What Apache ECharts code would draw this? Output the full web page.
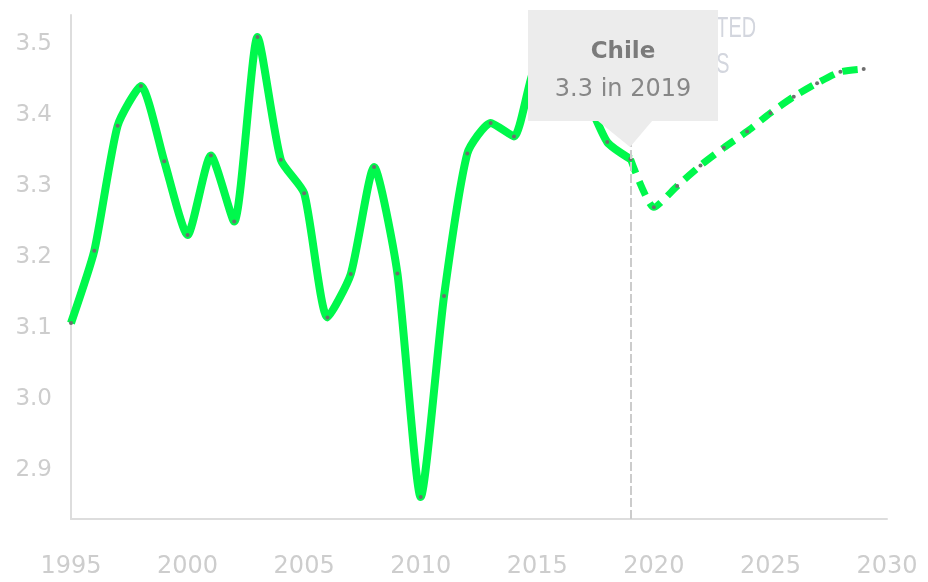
<!DOCTYPE html>
<html>
<head>
<meta charset="utf-8">
<script src="https://cdn.jsdelivr.net/npm/echarts@6/dist/echarts.min.js"></script>
<style>
  html, body { margin: 0; padding: 0; background: #fff; }
  #chart { width: 928px; height: 582px; }
</style>
</head>
<body>
<div id="chart"></div>
<script>
// ---- data ----
const country = 'Chile';
const histYears = [1995, 1996, 1997, 1998, 1999, 2000, 2001, 2002, 2003, 2004, 2005, 2006, 2007,
                   2008, 2009, 2010, 2011, 2012, 2013, 2014, 2015, 2016, 2017, 2018, 2019];
const histValues = [3.107, 3.209, 3.385, 3.441, 3.335, 3.231, 3.343, 3.250, 3.510, 3.337, 3.290, 3.115, 3.176,
                    3.327, 3.177, 2.862, 3.145, 3.346, 3.389, 3.370, 3.47, 3.46, 3.43, 3.362, 3.338];
const projYears = [2019, 2020, 2021, 2022, 2023, 2024, 2025, 2026, 2027, 2028, 2029];
const projValues = [3.338, 3.270, 3.300, 3.329, 3.354, 3.377, 3.403, 3.426, 3.445, 3.461, 3.465];
const yTicks = [2.9, 3.0, 3.1, 3.2, 3.3, 3.4, 3.5];
const xMin = 1995, xMax = 2030, xStep = 5;
const yMin = 2.831, yMax = 3.541;
const tipYear = 2019;
const tipValue = histValues[histYears.indexOf(tipYear)];
const projLabel = 'PROJECTED\nYEARS';

// ---- chart ----
const chart = echarts.init(document.getElementById('chart'), null, { renderer: 'canvas' });
const green = '#00f84c';
const dotColor = '#6e6e6e';
const axisColor = '#dddddd';
const labelColor = '#cdcdcd';

const option = {
  animation: false,
  backgroundColor: '#ffffff',
  grid: { left: 71, right: 41, top: 15, bottom: 63 },
  xAxis: {
    type: 'value',
    min: xMin, max: xMax, interval: xStep,
    axisLine: { show: true, lineStyle: { color: axisColor, width: 2 } },
    axisTick: { show: false },
    splitLine: { show: false },
    axisLabel: {
      margin: 36,
      color: labelColor,
      fontFamily: 'DejaVu Sans',
      fontSize: 24,
      formatter: v => String(v)
    }
  },
  yAxis: {
    type: 'value',
    min: yMin, max: yMax,
    axisLine: { show: true, lineStyle: { color: axisColor, width: 2 } },
    axisTick: { show: false },
    splitLine: { show: false },
    axisLabel: {
      customValues: yTicks,
      margin: 19,
      color: labelColor,
      fontFamily: 'DejaVu Sans',
      fontSize: 23,
      formatter: v => Number(v).toFixed(1)
    }
  },
  graphic: [{
    type: 'text',
    x: 696, y: 11,
    scaleX: 0.66,
    z: 0,
    style: {
      text: projLabel,
      textAlign: 'center',
      textVerticalAlign: 'top',
      fill: '#d3d6de',
      font: '30px "Liberation Sans"',
      lineHeight: 36
    }
  }],
  series: [
    {
      // vertical guide at the highlighted year
      type: 'line',
      data: [],
      z: 1,
      silent: true,
      markLine: {
        silent: true,
        symbol: ['none', 'none'],
        label: { show: false },
        lineStyle: { color: '#cccccc', width: 2, type: [9, 3] },
        data: [{ xAxis: tipYear }]
      }
    },
    {
      name: 'historical',
      type: 'line',
      z: 3,
      data: histYears.map((y, i) => [y, histValues[i]]),
      smooth: 0.2,
      showSymbol: true,
      symbol: 'circle',
      symbolSize: 4,
      itemStyle: { color: dotColor },
      lineStyle: { color: green, width: 8, cap: 'butt', join: 'round' },
      emphasis: { disabled: true }
    },
    {
      name: 'projected',
      type: 'line',
      z: 3,
      data: projYears.map((y, i) => [y, projValues[i]]),
      smooth: 0.2,
      showSymbol: true,
      symbol: 'circle',
      symbolSize: 4,
      itemStyle: { color: dotColor },
      lineStyle: { color: green, width: 7, type: [15, 9], cap: 'butt' },
      emphasis: { disabled: true }
    },
    {
      // tooltip-like callout
      type: 'line',
      data: [],
      z: 10,
      silent: true,
      markPoint: {
        silent: true,
        symbol: 'path://M0,0 L190,0 L190,111 L124,111 L102,137 L70,111 L0,111 Z',
        symbolSize: [190, 137],
        symbolKeepAspect: false,
        symbolOffset: [-7.5, -80.6],
        itemStyle: { color: '#ececec' },
        label: {
          show: true,
          position: 'inside',
          offset: [0, -7.5],
          align: 'center',
          formatter: () => '{a|' + country + '}\n{b|' + tipValue.toFixed(1) + ' in ' + tipYear + '}',
          rich: {
            a: { fontFamily: 'DejaVu Sans', fontWeight: 'bold', fontSize: 23, color: '#7b7b7b', lineHeight: 38, align: 'center' },
            b: { fontFamily: 'DejaVu Sans', fontSize: 24, color: '#878787', lineHeight: 38, align: 'center' }
          }
        },
        data: [{ coord: [tipYear, tipValue] }]
      }
    }
  ]
};
chart.setOption(option);
</script>
</body>
</html>
